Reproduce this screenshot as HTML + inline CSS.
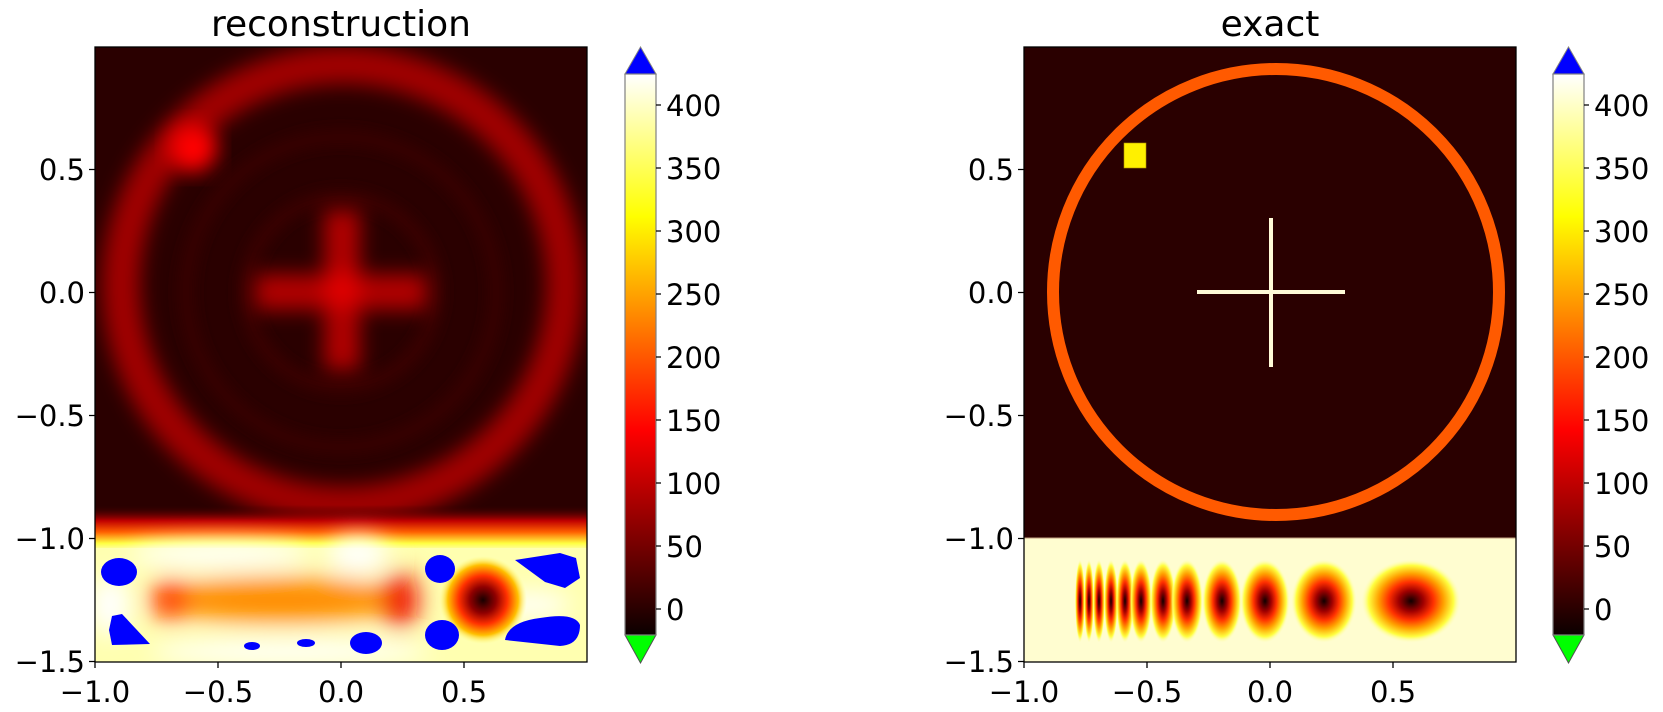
<!DOCTYPE html>
<html><head><meta charset="utf-8"><style>
html,body{margin:0;padding:0;background:#fff;}
svg{display:block;font-family:"DejaVu Sans","Liberation Sans",sans-serif;}
</style></head><body>
<svg width="1663" height="712" viewBox="0 0 1663 712" xmlns="http://www.w3.org/2000/svg">
<defs>
<linearGradient id="hot" x1="0" y1="1" x2="0" y2="0">
<stop offset="0" stop-color="#0b0000"/><stop offset="0.365" stop-color="#ff0000"/>
<stop offset="0.746" stop-color="#ffff00"/><stop offset="1" stop-color="#ffffff"/>
</linearGradient>
<filter id="b8" x="-30%" y="-30%" width="160%" height="160%"><feGaussianBlur stdDeviation="10"/></filter>
<filter id="b5" x="-30%" y="-30%" width="160%" height="160%"><feGaussianBlur stdDeviation="7"/></filter>
<filter id="b12" x="-50%" y="-50%" width="200%" height="200%"><feGaussianBlur stdDeviation="12"/></filter>
<linearGradient id="edge" x1="0" y1="0" x2="0" y2="1">
<stop offset="0" stop-color="#2a0000" stop-opacity="0"/><stop offset="0.35" stop-color="#c00000"/>
<stop offset="0.6" stop-color="#ff6000"/><stop offset="0.85" stop-color="#ffff40"/><stop offset="1" stop-color="#ffffb0"/>
</linearGradient>
<radialGradient id="dk">
<stop offset="0" stop-color="#180000"/><stop offset="0.3" stop-color="#900000"/><stop offset="0.55" stop-color="#ff3000"/>
<stop offset="0.8" stop-color="#ffc000"/><stop offset="1" stop-color="#ffff80" stop-opacity="0"/>
</radialGradient>
<radialGradient id="ch">
<stop offset="0" stop-color="#100000"/><stop offset="0.25" stop-color="#a00000"/><stop offset="0.45" stop-color="#ff3000"/>
<stop offset="0.65" stop-color="#ffa000"/><stop offset="0.85" stop-color="#ffff40"/><stop offset="1" stop-color="#fffdd0" stop-opacity="0"/>
</radialGradient>
<clipPath id="cl"><rect x="95" y="47" width="492" height="615"/></clipPath>
<clipPath id="cr"><rect x="1024" y="47" width="492" height="615"/></clipPath>
</defs>

<!-- LEFT PLOT -->
<g clip-path="url(#cl)">
<rect x="95" y="47" width="492" height="615" fill="#2a0000"/>
<g filter="url(#b5)" fill="none">
<circle cx="341" cy="292" r="95" stroke="#3a0000" stroke-width="14"/>
<circle cx="341" cy="292" r="155" stroke="#380000" stroke-width="14"/>
</g>
<ellipse cx="343" cy="285" rx="222" ry="220" fill="none" stroke="#a00000" stroke-width="38" filter="url(#b8)"/>
<circle cx="193" cy="148" r="24" fill="#ff0000" filter="url(#b8)"/>
<g filter="url(#b8)">
<rect x="255" y="274" width="172" height="36" fill="#b00000"/>
<rect x="324" y="210" width="36" height="160" fill="#b00000"/>
<circle cx="342" cy="290" r="18" fill="#e00000"/>
</g>
<rect x="95" y="505" width="492" height="45" fill="url(#edge)"/>
<rect x="95" y="548" width="492" height="114" fill="#ffffb0"/>
<g filter="url(#b12)">
<ellipse cx="358" cy="555" rx="30" ry="18" fill="#ffffff"/>
<ellipse cx="220" cy="555" rx="90" ry="12" fill="#ffffff"/>
<ellipse cx="110" cy="605" rx="20" ry="30" fill="#ffffff"/>
<ellipse cx="290" cy="652" rx="140" ry="12" fill="#ffffff"/>
<ellipse cx="530" cy="605" rx="40" ry="12" fill="#ffffff"/>
<ellipse cx="280" cy="600" rx="130" ry="22" fill="#ff8c00"/>
<circle cx="170" cy="600" r="20" fill="#ff4000"/>
<ellipse cx="400" cy="600" rx="18" ry="28" fill="#f01000"/>
</g>
<circle cx="483" cy="600" r="44" fill="url(#dk)"/>
<g fill="#0000ff">
<ellipse cx="119" cy="572" rx="18" ry="14"/>
<polygon points="112,616 122,614 150,644 112,645 109,630"/>
<ellipse cx="252" cy="646" rx="8" ry="4"/>
<ellipse cx="306" cy="643" rx="9" ry="4"/>
<ellipse cx="366" cy="643" rx="16" ry="11"/>
<ellipse cx="440" cy="569" rx="15" ry="14"/>
<ellipse cx="442" cy="635" rx="17" ry="15"/>
<path d="M505,640 Q508,622 540,618 Q575,612 580,625 Q580,645 560,646 Z"/>
<polygon points="515,560 560,553 576,558 580,578 565,588 545,582"/>
</g>
</g>
<rect x="95" y="47" width="492" height="615" fill="none" stroke="#000" stroke-width="1.3"/>

<!-- RIGHT PLOT -->
<g clip-path="url(#cr)">
<rect x="1024" y="47" width="492" height="615" fill="#2a0000"/>
<circle cx="1276" cy="292" r="223" fill="none" stroke="#ff5a00" stroke-width="12"/>
<rect x="1124" y="143" width="22" height="25" fill="#fff000" stroke="#b09000" stroke-width="0.6"/>
<rect x="1197" y="290" width="148" height="4" fill="#fffbd8"/>
<rect x="1269" y="218" width="4" height="149" fill="#fffbd8"/>
<rect x="1024" y="538" width="492" height="124" fill="#fffdd0"/>
<line x1="1024" y1="538" x2="1516" y2="538" stroke="#c0a080" stroke-width="1"/>
<g>
<ellipse cx="1080" cy="601" rx="5" ry="42" fill="url(#ch)"/>
<ellipse cx="1089" cy="601" rx="5" ry="42" fill="url(#ch)"/>
<ellipse cx="1099" cy="601" rx="6" ry="42" fill="url(#ch)"/>
<ellipse cx="1111" cy="601" rx="7" ry="42" fill="url(#ch)"/>
<ellipse cx="1125" cy="601" rx="9" ry="42" fill="url(#ch)"/>
<ellipse cx="1141" cy="601" rx="11" ry="42" fill="url(#ch)"/>
<ellipse cx="1163" cy="601" rx="13" ry="42" fill="url(#ch)"/>
<ellipse cx="1187" cy="601" rx="16" ry="42" fill="url(#ch)"/>
<ellipse cx="1222" cy="601" rx="20" ry="42" fill="url(#ch)"/>
<ellipse cx="1265" cy="601" rx="25" ry="42" fill="url(#ch)"/>
<ellipse cx="1324" cy="601" rx="33" ry="42" fill="url(#ch)"/>
<ellipse cx="1411" cy="601" rx="50" ry="42" fill="url(#ch)"/>
</g>
</g>
<rect x="1024" y="47" width="492" height="615" fill="none" stroke="#000" stroke-width="1.3"/>

<!-- TITLES -->
<text x="341" y="36" font-size="36" text-anchor="middle">reconstruction</text>
<text x="1270" y="36" font-size="36" text-anchor="middle">exact</text>

<!-- AXIS TICKS -->
<g font-size="29" stroke="none" fill="#000">
<g text-anchor="end">
<text x="85" y="180">0.5</text><text x="85" y="303">0.0</text><text x="85" y="426">−0.5</text>
<text x="85" y="549">−1.0</text><text x="85" y="672">−1.5</text>
<text x="1014" y="180">0.5</text><text x="1014" y="303">0.0</text><text x="1014" y="426">−0.5</text>
<text x="1014" y="549">−1.0</text><text x="1014" y="672">−1.5</text>
</g>
<g text-anchor="middle">
<text x="95" y="702">−1.0</text><text x="218" y="702">−0.5</text><text x="341" y="702">0.0</text><text x="464" y="702">0.5</text>
<text x="1024" y="702">−1.0</text><text x="1147" y="702">−0.5</text><text x="1270" y="702">0.0</text><text x="1393" y="702">0.5</text>
</g>
</g>
<g stroke="#000" stroke-width="1.3">
<path d="M95 169.5h-6M95 292.5h-6M95 415.5h-6M95 538.5h-6M95 661.5h-6"/>
<path d="M95 662v6M218 662v6M341 662v6M464 662v6"/>
<path d="M1024 169.5h-6M1024 292.5h-6M1024 415.5h-6M1024 538.5h-6M1024 661.5h-6"/>
<path d="M1024 662v6M1147 662v6M1270 662v6M1393 662v6"/>
</g>

<!-- COLORBARS -->
<g>
<polygon points="625,74 656,74 640.5,47" fill="#0000ff" stroke="#808080" stroke-width="1"/>
<polygon points="625,635 656,635 640.5,663" fill="#00ff00" stroke="#505050" stroke-width="1"/>
<rect x="625" y="74" width="31" height="561" fill="url(#hot)" stroke="#808080" stroke-width="1.2"/>
<path d="M656 609h5M656 546h5M656 483h5M656 420h5M656 357h5M656 294h5M656 231h5M656 168h5M656 105h5" stroke="#000" stroke-width="1.2"/>
<g font-size="29" fill="#000">
<text x="666" y="620">0</text><text x="666" y="557">50</text><text x="666" y="494">100</text><text x="666" y="431">150</text>
<text x="666" y="368">200</text><text x="666" y="305">250</text><text x="666" y="242">300</text><text x="666" y="179">350</text><text x="666" y="116">400</text>
</g>
</g>
<g>
<polygon points="1553,74 1584,74 1568.5,47" fill="#0000ff" stroke="#808080" stroke-width="1"/>
<polygon points="1553,635 1584,635 1568.5,663" fill="#00ff00" stroke="#505050" stroke-width="1"/>
<rect x="1553" y="74" width="31" height="561" fill="url(#hot)" stroke="#808080" stroke-width="1.2"/>
<path d="M1584 609h5M1584 546h5M1584 483h5M1584 420h5M1584 357h5M1584 294h5M1584 231h5M1584 168h5M1584 105h5" stroke="#000" stroke-width="1.2"/>
<g font-size="29" fill="#000">
<text x="1594" y="620">0</text><text x="1594" y="557">50</text><text x="1594" y="494">100</text><text x="1594" y="431">150</text>
<text x="1594" y="368">200</text><text x="1594" y="305">250</text><text x="1594" y="242">300</text><text x="1594" y="179">350</text><text x="1594" y="116">400</text>
</g>
</g>
</svg>
</body></html>
